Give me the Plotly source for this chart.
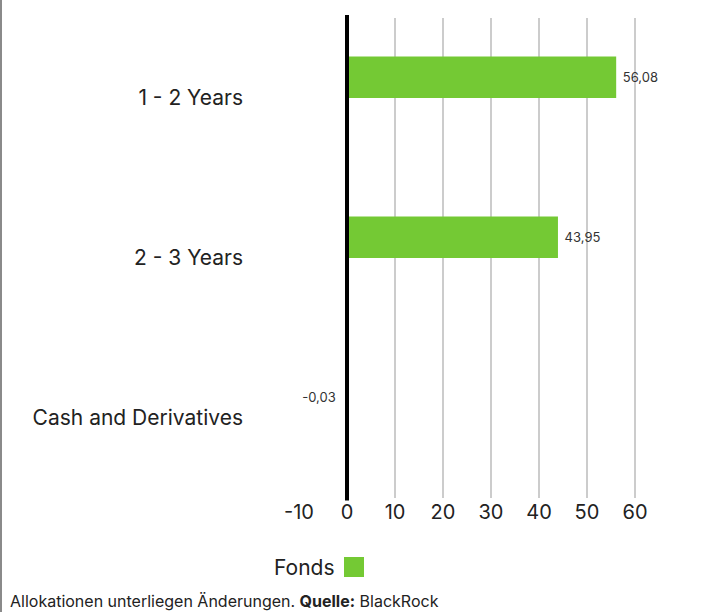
import plotly.graph_objects as go

categories = ["1 - 2 Years", "2 - 3 Years", "Cash and Derivatives"]
fonds = [56.08, 43.95, -0.03]
x_ticks = [-10, 0, 10, 20, 30, 40, 50, 60]
x_tick_labels = ["-10", "0", "10", "20", "30", "40", "50", "60"]
series_name = "Fonds"
footer = "Allokationen unterliegen Änderungen. <b>Quelle:</b> BlackRock"

GREEN = "#74c934"
FONT = "Inter"
NB = "\u00a0"


def fmt(v):
    s = f"{v:.2f}".replace(".", ",")
    return NB + s if v >= 0 else s + NB * 2


fig = go.Figure()
fig.add_trace(go.Bar(
    y=categories, x=fonds, orientation="h",
    marker=dict(color=GREEN, line=dict(width=0)),
    width=0.26, offset=-0.26,
    text=[fmt(v) for v in fonds],
    textposition="outside", cliponaxis=False,
    textfont=dict(family=FONT, size=13, color="#333333"),
    showlegend=False, hoverinfo="skip",
))
fig.add_trace(go.Scatter(
    x=[None], y=[None], mode="markers", name="",
    marker=dict(symbol="square", size=16, color=GREEN,
                line=dict(color=GREEN, width=4)),
    showlegend=True,
))

W, H = 712, 612
ml, mr, mt, mb = 299, 53, 18, 114
pw, ph = W - ml - mr, H - mt - mb

fig.update_layout(
    width=W, height=H,
    margin=dict(l=ml, r=mr, t=mt, b=mb, pad=0),
    paper_bgcolor="white", plot_bgcolor="white",
    font=dict(family=FONT, color="#222222"),
    separators=",.",
    xaxis=dict(
        range=[-10, 65], tickvals=x_ticks, ticktext=x_tick_labels,
        showgrid=True, gridcolor="#cccccc", gridwidth=2,
        zeroline=False,
        showline=False, ticks="",
        tickfont=dict(family=FONT, size=20, color="#222222"),
        fixedrange=True,
    ),
    yaxis=dict(
        categoryorder="array", categoryarray=categories,
        autorange="reversed", showgrid=False, zeroline=False,
        ticks="", ticklabelstandoff=55,
        tickfont=dict(family=FONT, size=21, color="#222222"),
        fixedrange=True,
    ),
    legend=dict(
        orientation="h",
        x=(334 - ml) / pw, xanchor="left",
        y=-(567 - (mt + ph)) / ph, yanchor="middle",
        font=dict(size=12), itemwidth=30,
    ),
    shapes=[
        dict(type="line", xref="paper", yref="paper",
             x0=(1 - ml) / pw, x1=(1 - ml) / pw,
             y0=(mt + ph - H) / ph, y1=(mt + ph) / ph,
             line=dict(color="#8a8a8a", width=2)),
        dict(type="line", xref="x", yref="paper", layer="above",
             x0=0, x1=0, y0=-0.005, y1=1.006,
             line=dict(color="black", width=4)),
    ],
    annotations=[
        dict(text=series_name, xref="paper", yref="paper",
             x=(337 - ml) / pw, xanchor="right",
             y=-(567 - (mt + ph)) / ph, yanchor="middle",
             showarrow=False, font=dict(family=FONT, size=21, color="#222222")),
        dict(text=footer, xref="paper", yref="paper",
             x=(8 - ml) / pw, xanchor="left",
             y=-(601 - (mt + ph)) / ph, yanchor="middle",
             showarrow=False, font=dict(family=FONT, size=16, color="#222222")),
    ],
)

fig.write_html(
    "out.html",
    config={"displayModeBar": False},
    post_script="document.body.style.margin='0';document.body.style.padding='0';",
)
